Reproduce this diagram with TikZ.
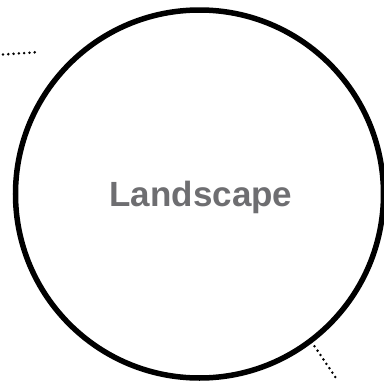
\documentclass[tikz,border=0pt]{standalone}
\usepackage{fontspec}
\setmainfont{Liberation Sans}
\usepackage{tikz}
\usetikzlibrary{positioning, calc}

\definecolor{labelgray}{HTML}{6E6E71}
\tikzset{
  bigcircle/.style={draw=black, circle, line width=5.5pt, minimum size=368pt, inner sep=0pt},
  linkdots/.style={line width=2.8pt, line cap=round, dash pattern=on 0pt off 5.3pt},
}

\begin{document}
\begin{tikzpicture}[x=1pt, y=-1pt]
  \useasboundingbox (0,0) rectangle (384,381);
  \node[bigcircle] (land) at (199.5,194) {};
  \node[anchor=base, font=\bfseries\fontsize{35}{40}\selectfont, text=labelgray, inner sep=0pt] (title) at (201,206.5) {Landscape};

  \coordinate (inA) at (3,54.5);
  \coordinate (inB) at (40,52);
  \coordinate (outB) at (338,381);
  \draw[linkdots] (inA) -- (inB);
  \draw[linkdots] (land.-54) ++(-54:4) -- (outB);
\end{tikzpicture}
\end{document}
